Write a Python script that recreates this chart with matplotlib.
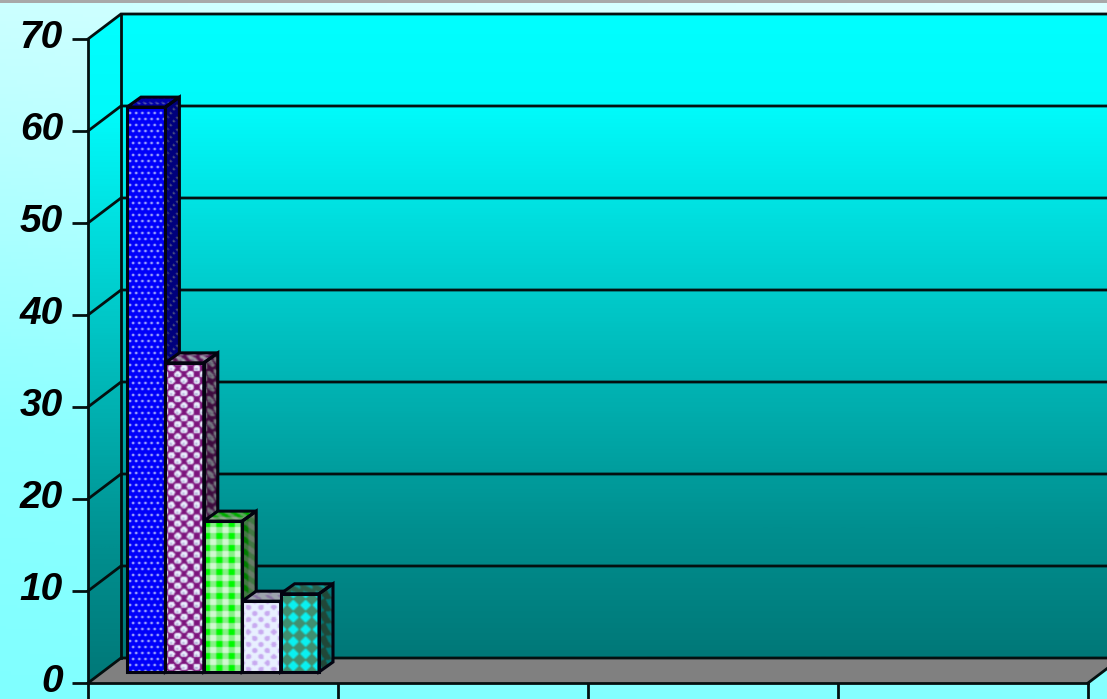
import numpy as np
import matplotlib
matplotlib.use("Agg")
import matplotlib.pyplot as plt
from matplotlib.colors import LinearSegmentedColormap
from matplotlib.patches import Polygon
from matplotlib.transforms import ScaledTranslation

# -------------------------------------------------
# Chart data
# -------------------------------------------------

y_ticks = [0, 10, 20, 30, 40, 50, 60, 70]
x_ticks = [0, 1, 2, 3, 4]
series_values = [61.4, 33.6, 16.4, 7.7, 8.5]
series_patterns = ["dots", "circles", "plaid", "lilac", "diamonds"]

# -------------------------------------------------
# Layout, in pixels of the 1107x699 picture
# -------------------------------------------------

W, H = 1107, 699
AX_LEFT, AX_RIGHT = 88, 1107
AX_TOP, AX_BOTTOM = 39, 683
CAT_PX = 250
WALL_DX, WALL_DY = 33, 25
BAR_DX, BAR_DY = 14, 10
BAR_START, BAR_PX = 39, 38.4
BAR_LIFT_PX = 11
LINE = 2.0
EDGE = "#041010"

fig = plt.figure(figsize=(W / 100, H / 100), dpi=100)

# -------------------------------------------------
# Background
# -------------------------------------------------

bg_ax = fig.add_axes([0, 0, 1, 1], zorder=0)
bg_ax.axis("off")
bg_cmap = LinearSegmentedColormap.from_list(
    "bg", ["#DDFFFF", "#B8FFFF", "#8CFFFF", "#80FFFF"]
)
gy, gx = np.mgrid[0:1:200j, 0:1:200j]
bg_ax.imshow(
    0.85 * gy + 0.15 * (1 - gx), cmap=bg_cmap, aspect="auto",
    extent=[0, 1, 0, 1], origin="upper", vmin=0, vmax=1
)
bg_ax.axhspan(1 - 3 / H, 1, color="#A8A8A8", lw=0)
bg_ax.set_xlim(0, 1)
bg_ax.set_ylim(0, 1)

# -------------------------------------------------
# Main axes, sitting on the front plane of the 3D box
# -------------------------------------------------

ax = fig.add_axes(
    [AX_LEFT / W, 1 - AX_BOTTOM / H, (AX_RIGHT - AX_LEFT) / W, (AX_BOTTOM - AX_TOP) / H],
    zorder=1
)
ax.patch.set_alpha(0)
xlim = (0, (AX_RIGHT - AX_LEFT) / CAT_PX)
ylim = (0, 70)
sx = (AX_RIGHT - AX_LEFT) / (xlim[1] - xlim[0])
sy = (AX_BOTTOM - AX_TOP) / (ylim[1] - ylim[0])
wall_dx = WALL_DX / sx
wall_dy = WALL_DY / sy
bar_dx = BAR_DX / sx
bar_dy = BAR_DY / sy
far_x = xlim[1] + 1

wall_cmap = LinearSegmentedColormap.from_list(
    "wall", [(0, "#00FFFF"), (0.15, "#00FAFA"), (0.5, "#00C0C0"), (0.8, "#008F8F"), (1, "#007878")]
)


def paint(image, extent, clip_patch, z):
    im = ax.imshow(
        image, extent=extent, aspect="auto", origin="upper",
        interpolation="bilinear", zorder=z
    )
    clip_patch.set_transform(ax.transData)
    im.set_clip_box(fig.bbox)
    im.set_clip_path(clip_patch)
    return im


# walls
wall_top = ylim[1] + wall_dy
grad = wall_cmap(np.linspace(0, 1, 400))[:, None, :3]
back = Polygon([(wall_dx, wall_dy), (far_x, wall_dy), (far_x, wall_top), (wall_dx, wall_top)])
left = Polygon([(0, 0), (wall_dx, wall_dy), (wall_dx, wall_top), (0, ylim[1])])
paint(grad, [wall_dx, far_x, wall_dy, wall_top], back, 1)
paint(grad, [0, wall_dx, 0, wall_top], left, 1)

# floor
floor_right = x_ticks[-1]
ax.add_patch(Polygon(
    [(0, 0), (floor_right, 0), (floor_right + wall_dx, wall_dy), (wall_dx, wall_dy)],
    closed=True, facecolor="#808080", edgecolor="none", clip_on=False, zorder=2
))

# grid lines, top edge and box edges
for v in y_ticks[1:]:
    ax.plot([0, wall_dx, far_x], [v, v + wall_dy, v + wall_dy],
            color=EDGE, lw=LINE, clip_on=False, zorder=3, solid_joinstyle="miter")
ax.plot([0, wall_dx, far_x], [0, wall_dy, wall_dy],
        color=EDGE, lw=LINE, clip_on=False, zorder=3)
ax.plot([wall_dx, wall_dx], [wall_dy, wall_top], color=EDGE, lw=LINE, clip_on=False, zorder=3)
ax.plot([floor_right, floor_right + wall_dx], [0, wall_dy], color=EDGE, lw=LINE,
        clip_on=False, zorder=3)


# -------------------------------------------------
# Fill patterns, as functions of pixel position
# -------------------------------------------------

def rgb(*c):
    return np.array(c, dtype=float) / 255


def lattice(px, py, period_x, period_y, stagger):
    # signed offset from the nearest lattice point
    row = np.floor(py / period_y + 0.5)
    shift = (row % 2) * period_x / 2 if stagger else 0
    dx = (px + shift + period_x / 2) % period_x - period_x / 2
    dy = (py + period_y / 2) % period_y - period_y / 2
    return dx, dy


def soften(img):
    # the reference is a soft JPEG, so take the pixel edge off the patterns
    out = img.copy()
    out[1:-1, 1:-1] = (
        2 * img[1:-1, 1:-1] + img[:-2, 1:-1] + img[2:, 1:-1] + img[1:-1, :-2] + img[1:-1, 2:]
    ) / 6
    return out


def pattern(name, px, py):
    img = np.zeros(px.shape + (3,))
    if name == "dots":
        img[:] = rgb(0, 0, 250)
        dx, dy = lattice(px, py, 6, 6, True)
        img[dx ** 2 + dy ** 2 < 0.7] = rgb(225, 235, 255)
    elif name == "circles":
        img[:] = rgb(125, 20, 125)
        dx, dy = lattice(px, py, 12.4, 6.2, True)
        img[dx ** 2 + dy ** 2 < 12] = rgb(235, 240, 255)
        img[(dx + 0.5) ** 2 + (dy - 1) ** 2 < 1.5] = rgb(175, 175, 215)
    elif name == "plaid":
        img[:] = rgb(135, 240, 135)
        a = (px % 12 < 6) & (py % 12 < 6)
        b = (px % 12 >= 6) & (py % 12 >= 6)
        img[a] = rgb(0, 250, 0)
        img[b] = rgb(210, 248, 210)
    elif name == "lilac":
        img[:] = rgb(232, 240, 255)
        dx, dy = lattice(px, py, 12.4, 6.2, True)
        img[dx ** 2 + dy ** 2 < 7] = rgb(200, 170, 240)
    elif name == "diamonds":
        img[:] = rgb(64, 144, 112)
        dx, dy = lattice(px, py, 12, 12, False)
        img[np.abs(dx) + np.abs(dy) < 5.5] = rgb(10, 240, 240)
    return soften(img)


def face(name, poly, z, shade, shear=0.0, top_shear=0.0):
    xs = [p[0] for p in poly]
    ys = [p[1] for p in poly]
    x0, x1, y0, y1 = min(xs), max(xs), min(ys), max(ys)
    nx = max(int(round((x1 - x0) * sx)), 3)
    ny = max(int(round((y1 - y0) * sy)), 3)
    px, py = np.meshgrid(np.arange(nx) + 0.5, np.arange(ny) + 0.5)
    py = py + shear * px
    px = px + top_shear * py
    img = pattern(name, px, py) * shade
    paint(img, [x0, x1, y0, y1], Polygon(poly), z)


# -------------------------------------------------
# Bars, drawn left to right so that each covers the last
# -------------------------------------------------

positions = [(BAR_START + i * BAR_PX) / CAT_PX for i in range(len(series_values))]
lift = BAR_LIFT_PX / sy
bars = ax.bar(
    positions, series_values, width=BAR_PX / CAT_PX, bottom=lift, align="edge",
    color="none", edgecolor="none", clip_on=False
)

for i, (rect, name) in enumerate(zip(bars, series_patterns)):
    z = 5 + i
    x0, y0 = rect.get_x(), rect.get_y()
    x1, y1 = x0 + rect.get_width(), y0 + rect.get_height()
    front_pts = [(x0, y0), (x1, y0), (x1, y1), (x0, y1)]
    side_pts = [(x1, y0), (x1 + bar_dx, y0 + bar_dy), (x1 + bar_dx, y1 + bar_dy), (x1, y1)]
    top_pts = [(x0, y1), (x1, y1), (x1 + bar_dx, y1 + bar_dy), (x0 + bar_dx, y1 + bar_dy)]
    face(name, side_pts, z, 0.5, shear=-BAR_DY / BAR_DX)
    face(name, top_pts, z, 0.68, top_shear=-BAR_DX / BAR_DY)
    face(name, front_pts, z, 1.0)
    for pts in (side_pts, top_pts, front_pts):
        ax.add_patch(Polygon(pts, closed=True, fill=False, edgecolor="#030310", lw=LINE + 0.2,
                             clip_on=False, zorder=z + 0.5, joinstyle="miter"))

# -------------------------------------------------
# Axes cosmetics
# -------------------------------------------------

ax.set_xlim(*xlim)
ax.set_ylim(*ylim)
ax.set_yticks(y_ticks)
ax.set_xticks(x_ticks)
ax.set_xticklabels([])
ax.set_yticklabels(
    [str(v) for v in y_ticks], fontfamily="Liberation Sans", fontweight="bold",
    fontstyle="italic", fontsize=28, color="#000000"
)
ax.tick_params(axis="both", length=11.5, width=LINE, color=EDGE, pad=6.5)
nudge = ScaledTranslation(0, 3.5 / 72, fig.dpi_scale_trans)
for label in ax.get_yticklabels():
    label.set_transform(label.get_transform() + nudge)
for side in ("top", "right"):
    ax.spines[side].set_visible(False)
for side in ("left", "bottom"):
    ax.spines[side].set_linewidth(LINE)
    ax.spines[side].set_color(EDGE)
    ax.spines[side].set_zorder(4)
ax.spines["bottom"].set_bounds(0, x_ticks[-1])

# -------------------------------------------------
# Save Figure
# -------------------------------------------------

fig.savefig("out.png", dpi=100)
